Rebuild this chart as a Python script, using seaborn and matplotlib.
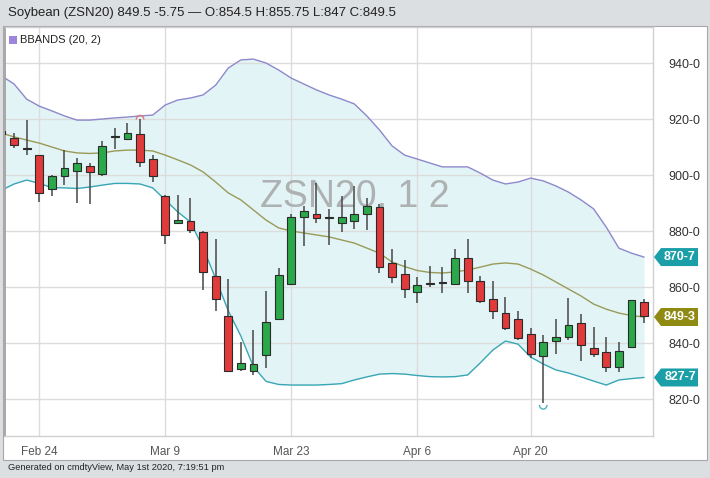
import numpy as np
import pandas as pd
import matplotlib
matplotlib.use("Agg")
import matplotlib.pyplot as plt
import seaborn as sns
from matplotlib.patches import Rectangle, Polygon, Arc
from matplotlib import transforms

# Daily candles, Feb 19 - May 1 2020 (trading days only)
dates = ["Feb 19", "Feb 20", "Feb 21", "Feb 24", "Feb 25", "Feb 26", "Feb 27", "Feb 28",
         "Mar 2", "Mar 3", "Mar 4", "Mar 5", "Mar 6", "Mar 9", "Mar 10", "Mar 11", "Mar 12",
         "Mar 13", "Mar 16", "Mar 17", "Mar 18", "Mar 19", "Mar 20", "Mar 23", "Mar 24",
         "Mar 25", "Mar 26", "Mar 27", "Mar 30", "Mar 31", "Apr 1", "Apr 2", "Apr 3", "Apr 6",
         "Apr 7", "Apr 8", "Apr 9", "Apr 13", "Apr 14", "Apr 15", "Apr 16", "Apr 17", "Apr 20",
         "Apr 21", "Apr 22", "Apr 23", "Apr 24", "Apr 27", "Apr 28", "Apr 29", "Apr 30", "May 1"]
opens = [915.75, 913.25, 909.25, 907, 895, 899.5, 901.5, 903.25, 900.5, 913.5, 913, 914.5,
         905.75, 892.5, 882.75, 883.5, 879.75, 864, 849.5, 830.75, 830, 835.75, 848.5, 861.25,
         885, 886, 884.5, 882.75, 883.75, 886.25, 888.75, 868.5, 864.5, 858.25, 861, 861.5,
         861.25, 870.5, 862, 855.75, 850.75, 848.5, 843.25, 835.5, 840.75, 842, 847.25, 838.25,
         836.75, 831.5, 838.5, 854.5]
highs = [917, 915, 919.5, 907.25, 900, 909, 906, 904.25, 912.25, 916.75, 918.75, 920, 907,
         892.75, 893, 891.75, 880, 877, 863, 840.25, 844.5, 858.5, 866.75, 886.25, 889, 897,
         888, 892.5, 896, 891.75, 889.5, 873.5, 869.5, 863.5, 867.5, 867, 873.5, 877, 864, 862,
         856.5, 851.5, 845.25, 843, 848.5, 856.25, 850.5, 845.75, 842, 840.5, 855.5, 855.75]
lows = [913, 909.5, 907, 890.5, 892.5, 896.5, 890, 889.5, 899.5, 909.25, 912.75, 903, 897.5,
        875.5, 882.5, 879.25, 859, 851.5, 829.5, 830, 828.75, 831, 848.25, 860.75, 874.5,
        882.75, 875, 879.75, 880.75, 880.5, 865, 861.5, 856.25, 854.25, 860, 857.75, 861,
        857.75, 854.25, 848.5, 844.5, 841, 834.5, 818.5, 836, 841, 833.75, 835, 829.5, 829.75,
        838.25, 847]
closes = [914.5, 910.75, 909.25, 893.75, 899.5, 902.5, 904.25, 901.25, 910.5, 913.5, 915,
          904.5, 899.5, 878.5, 884, 880.5, 865.5, 855.75, 830, 832.75, 832.5, 847.5, 864.25,
          885, 887.25, 884.5, 884.5, 885, 886.25, 889, 867, 863.75, 859.25, 860.75, 861, 861.5,
          870.5, 862, 855, 851.5, 845.25, 841.75, 836, 840.5, 842.25, 846.5, 839.25, 836.25,
          831.5, 837, 855.25, 849.5]

# Bollinger bands (20, 2)
bb_upper = [935.4, 932.5, 927.1, 924.6, 922.9, 921.1, 919.6, 919.6, 920, 920.4, 920.7, 921.1,
            921.4, 925, 926.8, 927.5, 928.6, 932.1, 938.2, 941.1, 941.4, 940, 937.5, 934.6,
            932.5, 930.4, 928.6, 927.1, 925.4, 921.1, 916.1, 910.4, 907.1, 905.7, 904.3, 902.9,
            902.9, 902.9, 900.7, 898.2, 896.8, 897.5, 898.9, 897.9, 896.1, 893.9, 891.1, 887.9,
            881.4, 873.9, 872.1, 870.7]
bb_middle = [915, 913.6, 912.5, 911.4, 910, 908.6, 907.9, 907.7, 907.9, 908.6, 908.9, 908.9,
             908.6, 907.1, 905.4, 903.6, 901.1, 897.5, 893.6, 891.1, 887.5, 883.9, 881.1, 880,
             879.3, 878.6, 877.9, 876.8, 875.7, 873.9, 872.1, 868.9, 867.3, 865.9, 865.2, 865,
             865.4, 866.1, 867.1, 868.2, 868.6, 868.2, 866.4, 864.3, 861.8, 859.3, 856.8, 853.9,
             852.1, 850.7, 849.8, 849.3]
bb_lower = [894.6, 896.8, 898.2, 897, 895.5, 895.4, 895.2, 895.7, 896.4, 897, 897, 896.8,
            895.4, 891.1, 886.8, 883.2, 874, 863, 851.5, 842.5, 831.5, 826.3, 825.2, 825, 825,
            825, 825.2, 825.5, 826.8, 827.9, 828.9, 829.1, 828.9, 828.4, 828, 827.9, 828, 828.6,
            832.9, 837.5, 840.7, 839.6, 835, 832.5, 830.4, 829.3, 827.9, 826.4, 825, 826.8,
            827.3, 827.7]
band_labels = ["870-7", "849-3", "827-7"]

tick_dates = ["Feb 24", "Mar 9", "Mar 23", "Apr 6", "Apr 20"]
price_ticks = [820, 840, 860, 880, 900, 920, 940]

df = pd.DataFrame({"date": dates, "open": opens, "high": highs, "low": lows, "close": closes,
                   "upper": bb_upper, "middle": bb_middle, "lower": bb_lower})
df["i"] = np.arange(len(df))

sns.set_theme(style="white")
plt.rcParams["font.family"] = ["Liberation Sans", "DejaVu Sans"]

W, H = 710, 478
BG = "#dcdfe2"
fig = plt.figure(figsize=(W / 100, H / 100), dpi=100, facecolor=BG)

def fx(px):
    return px / W

def fy(py):
    return 1 - py / H

# white panel
fig.add_artist(Rectangle((fx(3), fy(460)), fx(704), 434 / H, transform=fig.transFigure,
                         facecolor="white", edgecolor="#a8a8a8", lw=0.8, zorder=0))

ax = fig.add_axes([fx(5), fy(436), fx(648), 409 / H])
ax.set_facecolor("white")

# band fill + lines
ax.fill_between(df["i"], df["lower"], df["upper"], color="#e2f4f5", lw=0, zorder=0.3)
sns.lineplot(data=df, x="i", y="upper", ax=ax, color="#8c89cc", lw=1, zorder=1)
sns.lineplot(data=df, x="i", y="middle", ax=ax, color="#9a9a58", lw=1, zorder=1)
sns.lineplot(data=df, x="i", y="lower", ax=ax, color="#3aa6b5", lw=1, zorder=1)

# watermark
ax.text(fx(355), fy(197), "ZSN20, 1 2", transform=fig.transFigure, ha="center",
        va="center", fontsize=27, color="#aeb1b2", zorder=0.6)

# candles
up = df["close"] >= df["open"]
doji = (df["close"] - df["open"]).abs() < 0.3
colors = np.where(doji, "#333333", np.where(up, "#2aa84a", "#e03a3a"))
ax.vlines(df["i"], df["low"], df["high"], color="#474747", lw=1.1, zorder=2)
body_lo = df[["open", "close"]].min(axis=1)
body_h = (df["close"] - df["open"]).abs().clip(lower=0.45)
ax.bar(df["i"], body_h, bottom=body_lo, width=0.62, color=colors, edgecolor="#2b2b2b",
       lw=0.8, zorder=3)

# high / low markers
imax = int(df["high"].idxmax())
imin = int(df["low"].idxmin())
ax.add_patch(Arc((imax, df["high"][imax] - 0.2), 0.6, 3.0, theta1=0, theta2=180,
                 color="#e07878", lw=1, zorder=4))
ax.add_patch(Arc((imin, df["low"][imin] - 0.6), 0.6, 3.0, theta1=180, theta2=360,
                 color="#4fb3bc", lw=1, zorder=4))

# axes styling
ax.set_xlim(0.28, 51.71)
ax.set_ylim(806.8, 952.86)
tick_pos = [dates.index(d) for d in tick_dates]
ax.set_xticks(tick_pos)
ax.set_xticklabels(tick_dates)
ax.set_yticks(price_ticks)
ax.set_yticklabels([f"{v}-0" for v in price_ticks])
ax.yaxis.tick_right()
ax.tick_params(axis="y", length=0, pad=11, labelsize=9, labelcolor="#333333")
ax.tick_params(axis="x", length=0, pad=7, labelsize=8.5, labelcolor="#555555")
ax.set_xlabel("")
ax.set_ylabel("")
ax.grid(True, color="#dcdcdc", lw=1)
ax.set_axisbelow(True)
for side in ["top", "right", "bottom"]:
    ax.spines[side].set_color("#d0d0d0")
    ax.spines[side].set_linewidth(1)
ax.spines["left"].set_color("#9a9a9a")
ax.spines["left"].set_linewidth(1.2)

# right-side price tags for the bands
tr = transforms.blended_transform_factory(fig.transFigure, ax.transData)
tag_vals = [bb_upper[-1], bb_middle[-1], bb_lower[-1]]
tag_cols = ["#1a9ea8", "#8f8b12", "#1a9ea8"]
dv = 9 * (952.86 - 806.8) / 409
for v, lab, col in zip(tag_vals, band_labels, tag_cols):
    pts = [(fx(654), v), (fx(661), v + dv), (fx(698), v + dv), (fx(698), v - dv),
           (fx(661), v - dv)]
    ax.add_patch(Polygon(pts, closed=True, transform=tr, facecolor=col, edgecolor="none",
                         clip_on=False, zorder=5))
    ax.text(fx(680), v, lab, transform=tr, ha="center", va="center", fontsize=9,
            fontweight="bold", color="white", clip_on=False, zorder=6)

# legend tag
fig.add_artist(Rectangle((fx(9), fy(44)), fx(8), 8 / H, transform=fig.transFigure,
                         facecolor="#9b86d9", edgecolor="none"))
fig.text(fx(20), fy(40), "BBANDS (20, 2)", fontsize=8, color="#222222", va="center")

# header and footer
fig.text(fx(8), fy(13), "Soybean (ZSN20) 849.5 -5.75 \u2014 O:854.5 H:855.75 L:847 C:849.5",
         fontsize=9.5, color="#222222", va="center")
fig.text(fx(8), fy(467), "Generated on cmdtyView, May 1st 2020, 7:19:51 pm",
         fontsize=6.7, color="#222222", va="center")

fig.savefig("out.png", dpi=100, facecolor=BG)
